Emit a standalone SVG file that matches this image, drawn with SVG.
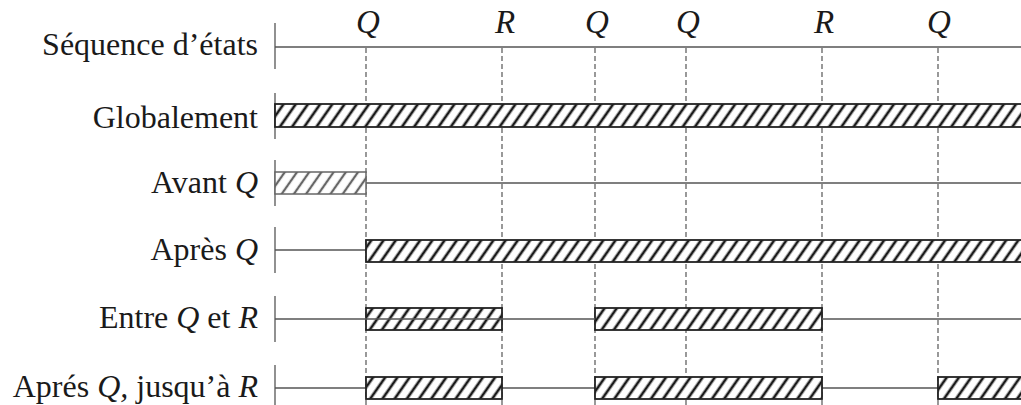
<svg xmlns="http://www.w3.org/2000/svg" width="1021" height="405" viewBox="0 0 1021 405">
<style>
text{font-family:"Liberation Serif","Times New Roman",serif;font-size:32px;fill:#1a1a1a}
.lab{text-anchor:end}
.top{text-anchor:middle;font-style:italic;font-size:33px}
.i{font-style:italic}
.ax{stroke:#555;stroke-width:1.3;fill:none}
.dash{stroke:#555;stroke-width:1.2;stroke-dasharray:5 3;fill:none}
.bar{fill:url(#hatch);stroke:#222;stroke-width:1.8}
.barg{fill:url(#hatchg);stroke:#666;stroke-width:1.5}
</style>
<defs>
<pattern id="hatch" patternUnits="userSpaceOnUse" width="10" height="40" patternTransform="rotate(35)">
<rect width="10" height="40" fill="#fff"/>
<line x1="2" y1="0" x2="2" y2="40" stroke="#1a1a1a" stroke-width="2.7"/>
</pattern>
<pattern id="hatchg" patternUnits="userSpaceOnUse" width="10" height="40" patternTransform="rotate(35)">
<rect width="10" height="40" fill="#fff"/>
<line x1="2" y1="0" x2="2" y2="40" stroke="#666" stroke-width="2.3"/>
</pattern>
</defs>

<g id="connectors">
<line class="dash" x1="366" y1="48" x2="366" y2="405"/>
<line class="dash" x1="502" y1="48" x2="502" y2="405"/>
<line class="dash" x1="595" y1="48" x2="595" y2="405"/>
<line class="dash" x1="686" y1="48" x2="686" y2="405"/>
<line class="dash" x1="822" y1="48" x2="822" y2="405"/>
<line class="dash" x1="938" y1="48" x2="938" y2="405"/>
</g>

<g id="sequence">
<text class="lab" x="258" y="55">Séquence d’états</text>
<line class="ax" x1="275" y1="23" x2="275" y2="69"/>
<line class="ax" x1="275" y1="47" x2="1021" y2="47"/>
<text class="top" x="368" y="33">Q</text>
<text class="top" x="505" y="33">R</text>
<text class="top" x="597" y="33">Q</text>
<text class="top" x="688" y="33">Q</text>
<text class="top" x="824" y="33">R</text>
<text class="top" x="939" y="33">Q</text>
</g>

<g id="globalement">
<text class="lab" x="258" y="128">Globalement</text>
<line class="ax" x1="275" y1="93" x2="275" y2="139"/>
<rect class="bar" x="275" y="104" width="750" height="23"/>
</g>

<g id="avant">
<text class="lab" x="258" y="193">Avant <tspan class="i">Q</tspan></text>
<line class="ax" x1="275" y1="160" x2="275" y2="206"/>
<line class="ax" x1="366" y1="183" x2="1021" y2="183"/>
<rect class="barg" x="275" y="172" width="91" height="22"/>
</g>

<g id="apres">
<text class="lab" x="258" y="260">Après <tspan class="i">Q</tspan></text>
<line class="ax" x1="275" y1="227" x2="275" y2="273"/>
<line class="ax" x1="275" y1="250" x2="366" y2="250"/>
<rect class="bar" x="366" y="240" width="659" height="22"/>
</g>

<g id="entre">
<text class="lab" x="258" y="328">Entre <tspan class="i">Q</tspan> et <tspan class="i">R</tspan></text>
<line class="ax" x1="275" y1="296" x2="275" y2="342"/>
<rect class="bar" x="366" y="308" width="136" height="22"/>
<rect class="bar" x="595" y="308" width="227" height="22"/>
<line class="ax" x1="275" y1="319" x2="595" y2="319"/>
<line class="ax" x1="822" y1="319" x2="1021" y2="319"/>
</g>

<g id="jusqua">
<text class="lab" x="258" y="397">Aprés <tspan class="i">Q,</tspan> jusqu’à <tspan class="i">R</tspan></text>
<line class="ax" x1="275" y1="365" x2="275" y2="405"/>
<line class="ax" x1="275" y1="388" x2="366" y2="388"/>
<line class="ax" x1="502" y1="388" x2="595" y2="388"/>
<line class="ax" x1="822" y1="388" x2="938" y2="388"/>
<rect class="bar" x="366" y="377" width="136" height="22"/>
<rect class="bar" x="595" y="377" width="227" height="22"/>
<rect class="bar" x="938" y="377" width="87" height="22"/>
</g>
</svg>
